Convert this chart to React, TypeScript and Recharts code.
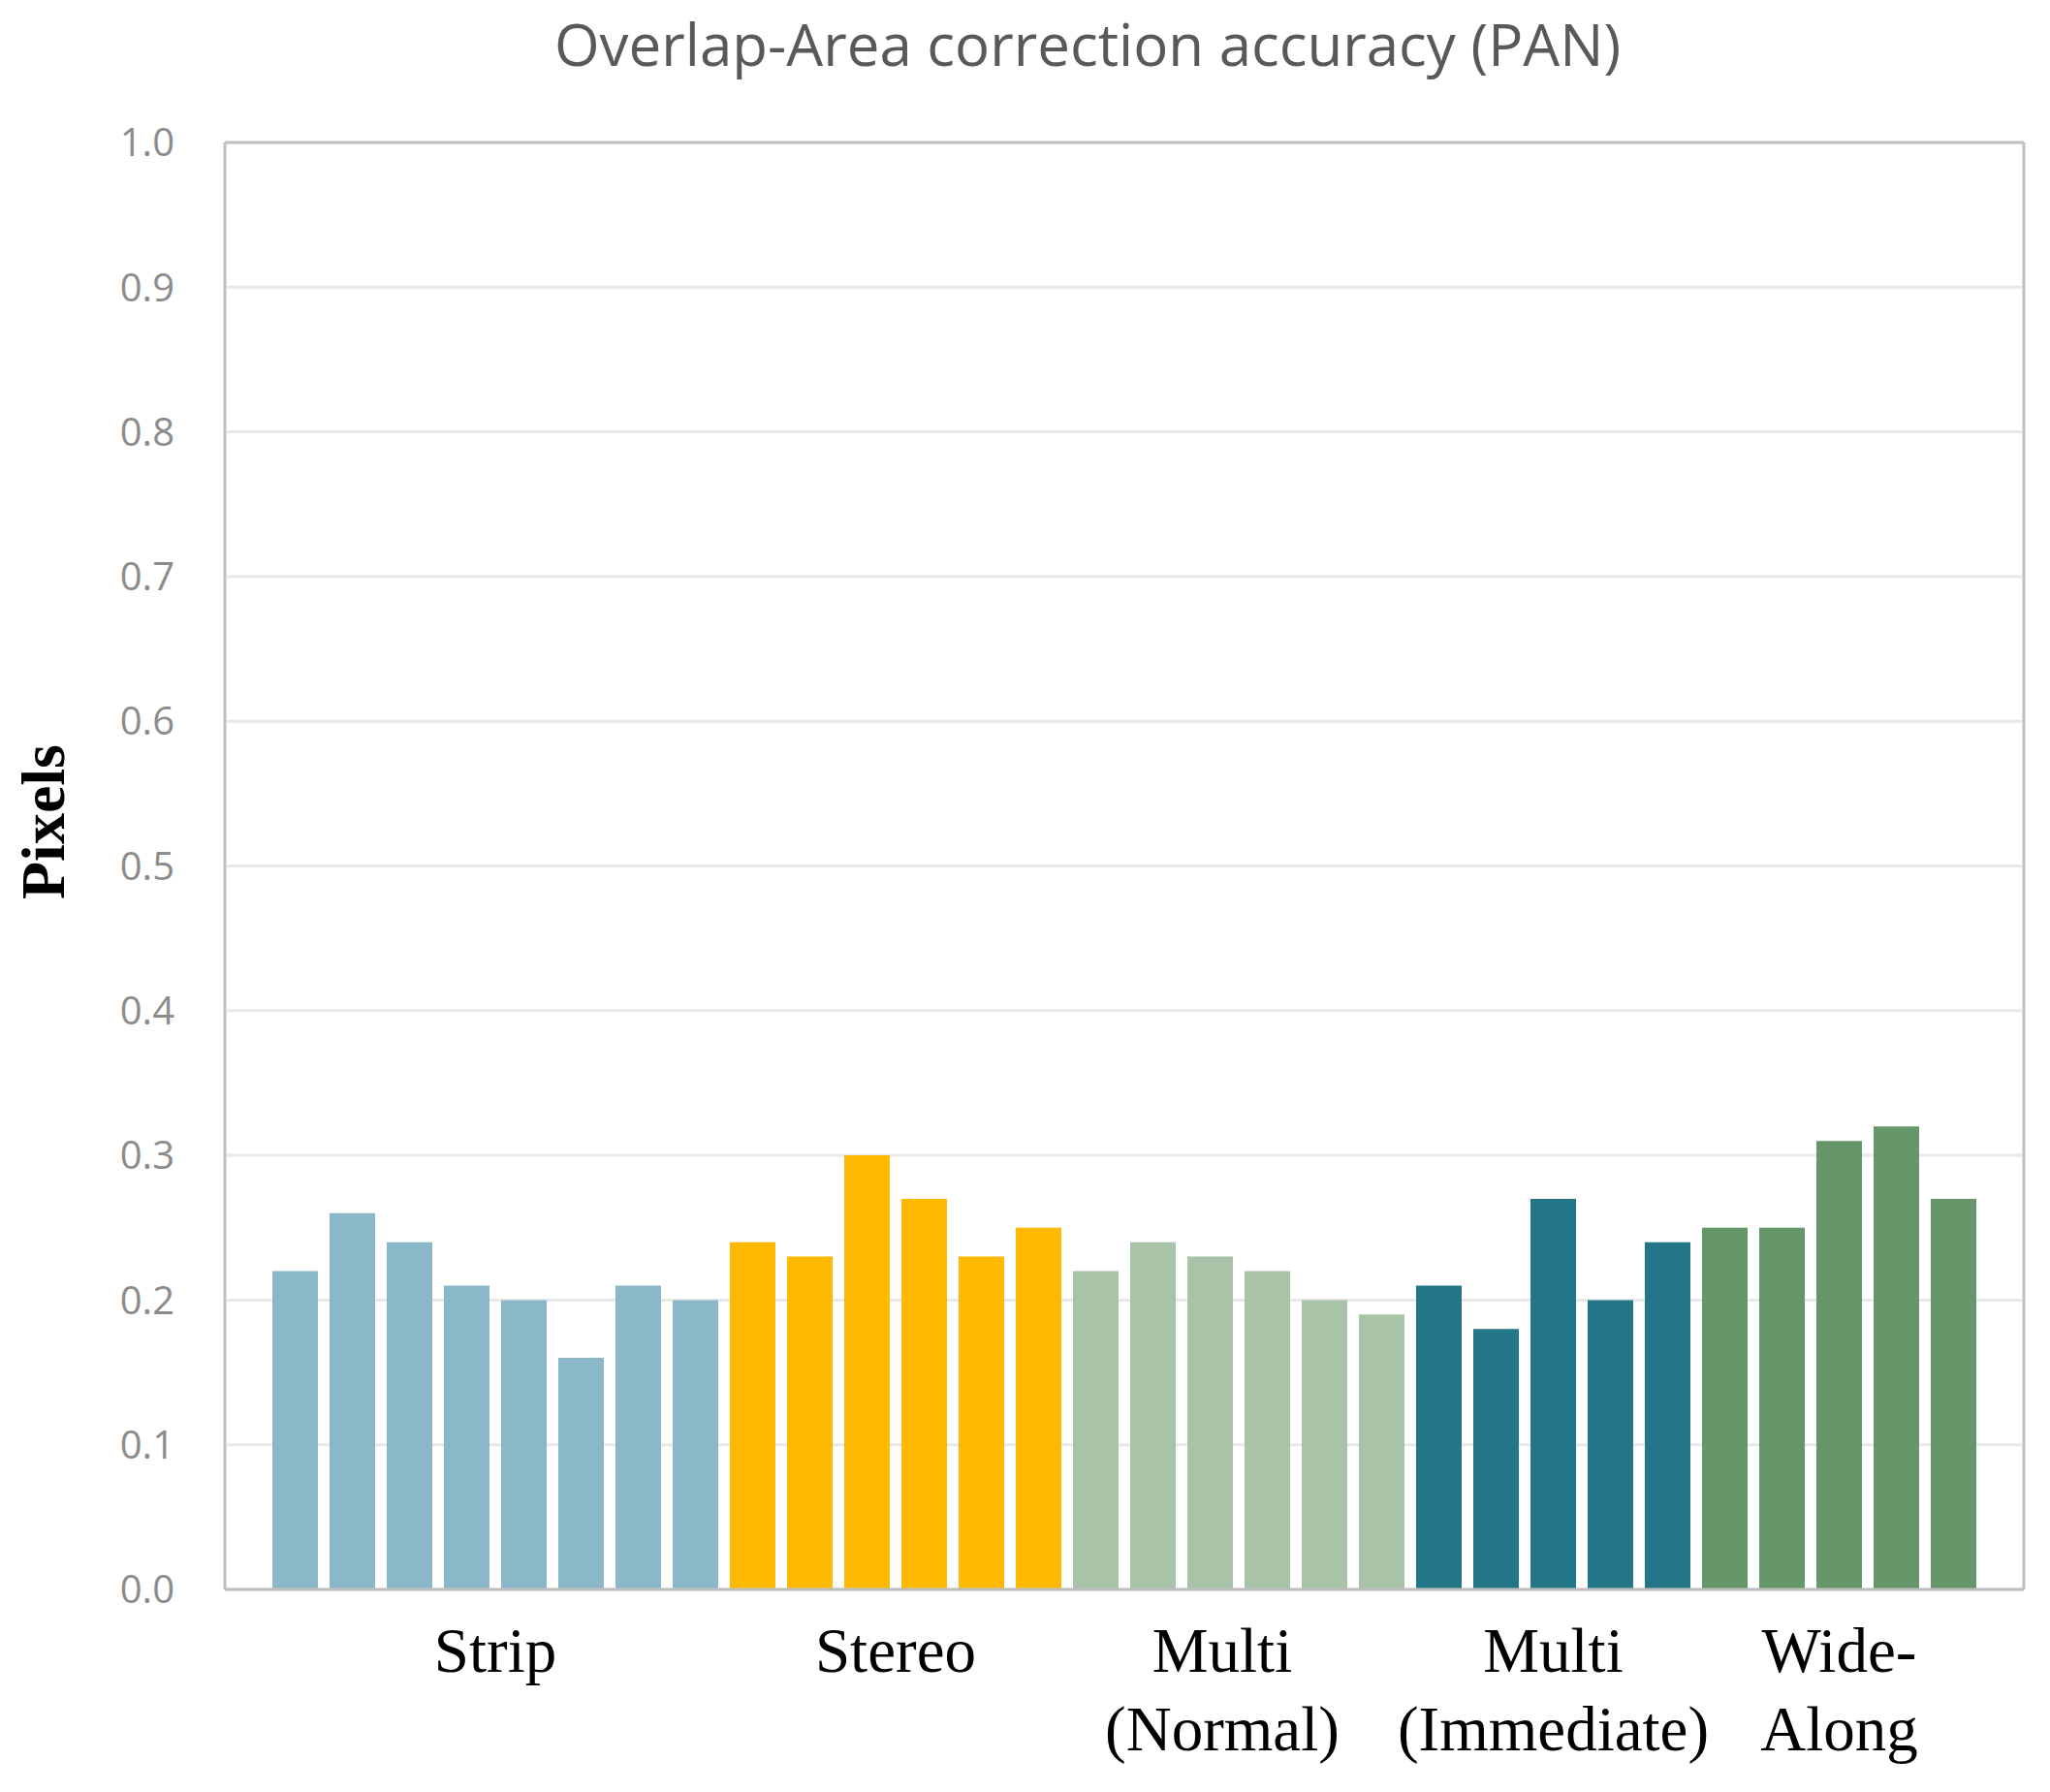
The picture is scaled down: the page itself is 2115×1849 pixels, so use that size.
import {
  Bar,
  BarChart,
  CartesianGrid,
  Cell,
  ReferenceLine,
  XAxis,
  YAxis,
} from "recharts";

const groups = ["Strip", "Stereo", "Multi (Normal)", "Multi (Immediate)", "Wide-Along"];
const groupLines = [["Strip"], ["Stereo"], ["Multi", "(Normal)"], ["Multi", "(Immediate)"], ["Wide-", "Along"]];
const groupColors = ["#8ab8c8", "#ffb900", "#a8c3a8", "#237687", "#65976a"];

const stripValues = [0.22, 0.26, 0.24, 0.21, 0.2, 0.16, 0.21, 0.2];
const stereoValues = [0.24, 0.23, 0.3, 0.27, 0.23, 0.25];
const multiNormalValues = [0.22, 0.24, 0.23, 0.22, 0.2, 0.19];
const multiImmediateValues = [0.21, 0.18, 0.27, 0.2, 0.24];
const wideAlongValues = [0.25, 0.25, 0.31, 0.32, 0.27];

const yTicks = [0, 0.1, 0.2, 0.3, 0.4, 0.5, 0.6, 0.7, 0.8, 0.9, 1.0];

const W = 2115;
const H = 1849;
const PLOT_LEFT = 232;
const PLOT_RIGHT = 2088;
const X_PAD = 43;
// the original's "Multi (Normal)" label sits a little left of its group centre
const LABEL_NUDGE = [0, 0, -17, 0, 0];

const seriesByGroup = [stripValues, stereoValues, multiNormalValues, multiImmediateValues, wideAlongValues];

const data = seriesByGroup.flatMap((vals, g) =>
  vals.map((v, i) => ({ key: `${g}-${i}`, group: g, first: i === 0, count: vals.length, value: v }))
);

const BAND = (PLOT_RIGHT - PLOT_LEFT - 2 * X_PAD) / data.length;

function GroupTick({ x, y, payload, index }: any) {
  const i = payload?.index ?? index;
  const row = data[i];
  if (!row || !row.first) return null;
  const band = payload?.offset ? payload.offset * 2 : BAND;
  const cx = x + ((row.count - 1) / 2) * band + LABEL_NUDGE[row.group];
  const lines = groupLines[row.group];
  return (
    <text
      x={cx}
      y={y}
      textAnchor="middle"
      fill="#000"
      fontSize={65}
      fontFamily="'Liberation Serif', 'Times New Roman', serif"
    >
      {lines.map((l, k) => (
        <tspan key={k} x={cx} y={y + 85 + k * 81}>
          {l}
        </tspan>
      ))}
    </text>
  );
}

function PixelsLabel() {
  return (
    <text
      x={66}
      y={848}
      transform="rotate(-90, 66, 848)"
      textAnchor="middle"
      fill="#000"
      fontSize={64}
      fontWeight="bold"
      fontFamily="'Liberation Serif', 'Times New Roman', serif"
    >
      Pixels
    </text>
  );
}

export default function App() {
  return (
    <div style={{ position: "relative", width: W, height: H, background: "#fff" }}>
      <style>{`body{margin:0}`}</style>
      <svg
        width={W}
        height={120}
        style={{ position: "absolute", left: 0, top: 0 }}
      >
        <text
          x={1122}
          y={68}
          textAnchor="middle"
          fill="#595959"
          fontSize={60}
          fontFamily="'Open Sans', sans-serif"
        >
          Overlap-Area correction accuracy (PAN)
        </text>
      </svg>
      <BarChart
        width={W}
        height={H}
        data={data}
        margin={{ top: 147, right: 26, bottom: 0, left: 0 }}
        barSize={47}
      >
        <CartesianGrid vertical={false} stroke="#e8e8e8" strokeWidth={3} />
        <XAxis
          dataKey="key"
          type="category"
          interval={0}
          height={209}
          padding={{ left: X_PAD, right: X_PAD }}
          axisLine={{ stroke: "#bfbfbf", strokeWidth: 3 }}
          tickLine={false}
          tickSize={0}
          tickMargin={0}
          tick={<GroupTick />}
        />
        <YAxis
          type="number"
          domain={[0, 1]}
          ticks={yTicks}
          width={PLOT_LEFT}
          axisLine={{ stroke: "#bfbfbf", strokeWidth: 3 }}
          tickLine={false}
          tickSize={0}
          tickMargin={52}
          tickFormatter={(v: number) => v.toFixed(1)}
          tick={{ fontSize: 40, fill: "#8c8c8c", fontFamily: "'Open Sans', sans-serif" }}
          label={<PixelsLabel />}
        />
        <YAxis
          yAxisId="right"
          orientation="right"
          domain={[0, 1]}
          width={1}
          tick={false}
          tickLine={false}
          axisLine={{ stroke: "#bfbfbf", strokeWidth: 3 }}
        />
        <ReferenceLine y={1} stroke="#bfbfbf" strokeWidth={3} />
        <Bar dataKey="value" isAnimationActive={false}>
          {data.map((d) => (
            <Cell key={d.key} fill={groupColors[d.group]} />
          ))}
        </Bar>
      </BarChart>
    </div>
  );
}
